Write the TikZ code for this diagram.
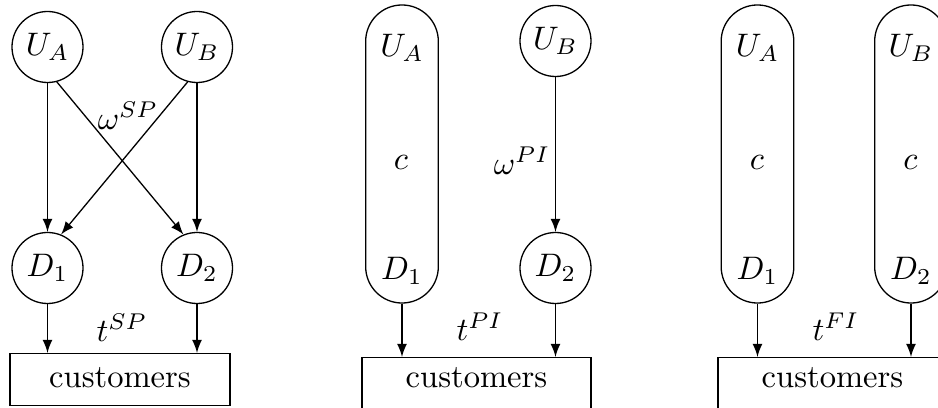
\documentclass[tikz,border=0pt]{standalone}
\usepackage{amsmath}

\begin{document}
\begin{tikzpicture}[x=0.307pt, y=-0.307pt, >=latex,
  vertex/.style={draw, circle, inner sep=0pt, minimum size=21.8pt},
  pill/.style={draw, rounded corners=11.15pt, minimum width=22.3pt, minimum height=91.5pt},
  custbox/.style={draw, anchor=north, inner ysep=0pt}]
\useasboundingbox (0,0) rectangle (938,408);

% separate ownership
\def\x{0}
\node[vertex] (ua) at (\x + 47.5, 47) {$U_A$};
\node[vertex] (ub) at (\x + 197, 47) {$U_B$};
\node[vertex] (d1) at (\x + 47.5, 268) {$D_1$};
\node[vertex] (d2) at (\x + 197, 268) {$D_2$};
\node[custbox, minimum width=67.5pt, text height=10.4pt, text depth=5.6pt] (cust) at (\x + 120, 353) {customers};
\node (wsp) at (\x + 128, 116) {$\omega^{SP}$};
\node (tsp) at (\x + 122, 328) {$t^{SP}$};

\draw[->] (ua) -- (d1);
\draw[->] (ua.-75) -- (d2.112);
\draw[->] (ub.-105) -- (d1.68);
\draw[->] (ub) -- (d2);
\draw[->] (d1) -- (d1 |- cust.north);
\draw[->] (d2) -- (d2 |- cust.north);

% partial integration
\def\x{340}
\node[pill] (p1) at (\x + 62, 154) {};
\node (ua2) at (\x + 62, 48) {$U_A$};
\node (c2) at (\x + 61, 162) {$c$};
\node (d12) at (\x + 62, 270.5) {$D_1$};
\node[vertex] (ub2) at (\x + 215.5, 41) {$U_B$};
\node[vertex] (d22) at (\x + 215.5, 268) {$D_2$};
\node[custbox, minimum width=70.3pt, text height=9.2pt, text depth=9pt] (cust2) at (\x + 136.5, 357) {customers};
\node (wpi) at (\x + 182, 161) {$\omega^{PI}$};
\node (tpi) at (\x + 140, 327) {$t^{PI}$};

\draw[->] (ub2) -- (d22);
\draw[->] (p1) -- (p1 |- cust2.north);
\draw[->] (d22) -- (d22 |- cust2.north);

% full integration
\def\x{690}
\node[pill] (p3a) at (\x + 67.5, 154) {};
\node[pill] (p3b) at (\x + 221, 154) {};
\node (ua3) at (\x + 67.5, 48) {$U_A$};
\node (c3a) at (\x + 67, 162) {$c$};
\node (d13) at (\x + 67.5, 270.5) {$D_1$};
\node (ub3) at (\x + 221, 48) {$U_B$};
\node (c3b) at (\x + 220.5, 162) {$c$};
\node (d23) at (\x + 221, 270.5) {$D_2$};
\node[custbox, minimum width=70.3pt, text height=9.2pt, text depth=9pt] (cust3) at (\x + 142.5, 357) {customers};
\node (tfi) at (\x + 146, 327) {$t^{FI}$};

\draw[->] (p3a) -- (p3a |- cust3.north);
\draw[->] (p3b) -- (p3b |- cust3.north);

\end{tikzpicture}
\end{document}
